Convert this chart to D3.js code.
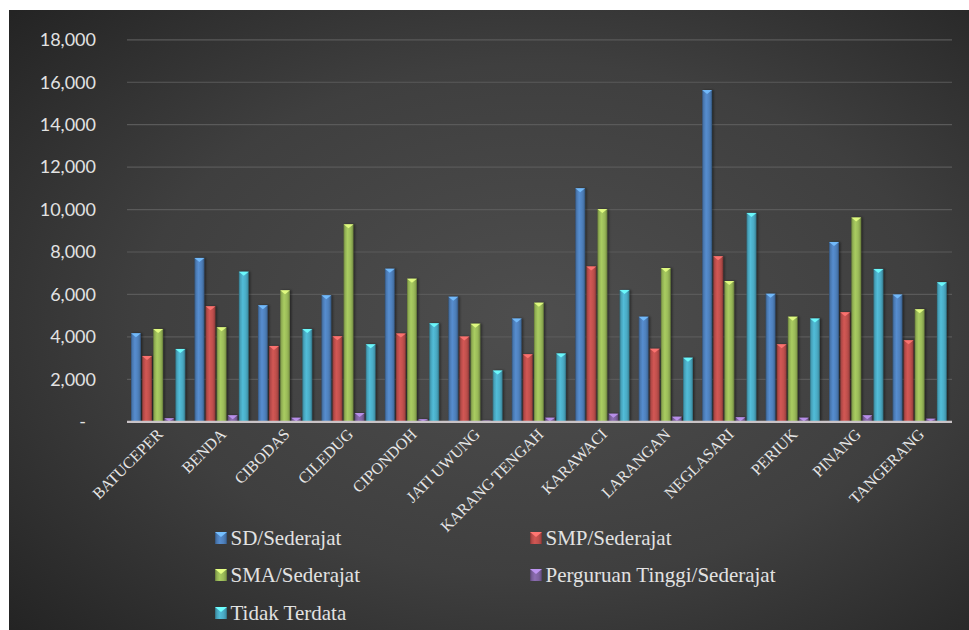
<!DOCTYPE html>
<html>
<head>
<meta charset="utf-8">
<script src="https://cdn.jsdelivr.net/npm/d3@7"></script>
<style>
  html, body { margin: 0; padding: 0; background: #ffffff; overflow: hidden; }
  svg { display: block; }
</style>
</head>
<body>
<svg id="chart" width="969" height="630"></svg>
<script>
// Kecamatan names
const categories = ["BATUCEPER", "BENDA", "CIBODAS", "CILEDUG", "CIPONDOH", "JATI UWUNG",
  "KARANG TENGAH", "KARAWACI", "LARANGAN", "NEGLASARI", "PERIUK", "PINANG", "TANGERANG"];

// Series names
const seriesNames = ["SD/Sederajat", "SMP/Sederajat", "SMA/Sederajat",
  "Perguruan Tinggi/Sederajat", "Tidak Terdata"];

// Values per series, one per kecamatan
const sd     = [4150, 7700, 5470, 5940, 7190, 5870, 4840, 10980, 4930, 15610, 6010, 8450, 5970];
const smp    = [3080, 5420, 3550, 4010, 4140, 3990, 3160, 7300, 3420, 7780, 3630, 5140, 3820];
const sma    = [4350, 4430, 6170, 9280, 6720, 4600, 5590, 10000, 7220, 6610, 4930, 9600, 5280];
const pt     = [140, 280, 170, 390, 95, 30, 170, 360, 220, 190, 170, 280, 120];
const tidak  = [3410, 7050, 4350, 3630, 4620, 2390, 3200, 6190, 3000, 9820, 4840, 7180, 6550];

const seriesValues = [sd, smp, sma, pt, tidak];

// Y axis ticks
const yTicks = [0, 2000, 4000, 6000, 8000, 10000, 12000, 14000, 16000, 18000];

const colors = ["#4f81bd", "#c0504d", "#9bbb59", "#8064a2", "#4bacc6"];

const SERIF = '"Liberation Serif", "Times New Roman", serif';
const SANS = 'Lato, "Open Sans", sans-serif';

const svg = d3.select("#chart");
const W = 969, H = 630;
const plot = { left: 127, right: 952, top: 39.3, bottom: 421.3 };

const defs = svg.append("defs");

// Chart area background: dark radial glow
const bg = defs.append("radialGradient").attr("id", "bgGrad")
  .attr("cx", "0.55").attr("cy", "0.5").attr("r", "0.75");
bg.append("stop").attr("offset", "0").attr("stop-color", "#4e4e4e");
bg.append("stop").attr("offset", "0.55").attr("stop-color", "#3f3f3f");
bg.append("stop").attr("offset", "1").attr("stop-color", "#232323");

// Bar bevel gradients
colors.forEach((c, i) => {
  const base = d3.color(c);
  const g = defs.append("linearGradient").attr("id", "barGrad" + i)
    .attr("x1", "0").attr("x2", "1").attr("y1", "0").attr("y2", "0");
  g.append("stop").attr("offset", "0").attr("stop-color", base.darker(1.2));
  g.append("stop").attr("offset", "0.15").attr("stop-color", base.darker(0.2));
  g.append("stop").attr("offset", "0.4").attr("stop-color", base.brighter(0.25));
  g.append("stop").attr("offset", "0.7").attr("stop-color", base);
  g.append("stop").attr("offset", "0.88").attr("stop-color", base.darker(0.4));
  g.append("stop").attr("offset", "1").attr("stop-color", base.darker(1.4));
});

const shadow = defs.append("filter").attr("id", "barShadow")
  .attr("x", "-50%").attr("y", "-10%").attr("width", "200%").attr("height", "120%");
shadow.append("feDropShadow").attr("dx", 1.5).attr("dy", 0).attr("stdDeviation", 1.2)
  .attr("flood-color", "#000").attr("flood-opacity", 0.45);

svg.append("rect").attr("x", 9).attr("y", 10).attr("width", W - 9).attr("height", H - 10)
  .attr("fill", "url(#bgGrad)");

// Scales
const x = d3.scaleBand().domain(categories).range([plot.left, plot.right]).padding(0);
const xInner = d3.scaleBand().domain(d3.range(seriesNames.length))
  .range([4, x.bandwidth() - 4]).padding(0);
const y = d3.scaleLinear().domain([0, 18000]).range([plot.bottom, plot.top]);

// Gridlines
const grid = svg.append("g").attr("transform", `translate(${plot.left},0)`)
  .call(d3.axisLeft(y).tickValues(yTicks).tickSize(-(plot.right - plot.left)).tickFormat(""));
grid.select(".domain").remove();
grid.selectAll("line").attr("stroke", "#5a5a5a").attr("stroke-width", 1.2);

// Y tick labels
const yAxis = svg.append("g").attr("transform", `translate(${plot.left - 28},0)`)
  .call(d3.axisLeft(y).tickValues(yTicks).tickSize(0)
    .tickFormat(d => d === 0 ? "-" : d3.format(",")(d)));
yAxis.select(".domain").remove();
yAxis.selectAll("text")
  .style("font-family", SANS)
  .attr("fill", "#e2e2e2")
  .attr("font-size", 18)
  .attr("dy", "0.35em")
  .attr("dx", d => d === 0 ? -10 : 0);

// Bars
const groups = svg.append("g").selectAll("g").data(seriesNames).join("g")
  .attr("filter", "url(#barShadow)");

groups.each(function(name, si) {
  const g = d3.select(this);
  const bw = xInner.bandwidth() - 1.2;
  const data = categories.map((c, ci) => ({ c, v: seriesValues[si][ci] }));
  g.selectAll("rect").data(data).join("rect")
    .attr("x", d => x(d.c) + xInner(si))
    .attr("y", d => y(d.v))
    .attr("width", bw)
    .attr("height", d => y(0) - y(d.v))
    .attr("fill", `url(#barGrad${si})`);
  // bevelled top cap
  const light = d3.color(colors[si]).brighter(1.1);
  g.selectAll("path.cap").data(data).join("path").attr("class", "cap")
    .attr("d", d => {
      const x0 = x(d.c) + xInner(si), y0 = y(d.v);
      const h = Math.min(4, y(0) - y0);
      return `M${x0},${y0} L${x0 + bw},${y0} L${x0 + bw / 2},${y0 + h} Z`;
    })
    .attr("fill", light.formatHex())
    .attr("opacity", 0.9);
});

// X axis line
svg.append("line")
  .attr("x1", plot.left).attr("x2", plot.right)
  .attr("y1", y(0) + 0.5).attr("y2", y(0) + 0.5)
  .attr("stroke", "#c9c3c6").attr("stroke-width", 2.2);

// Category labels, rotated
const xAxis = svg.append("g").attr("transform", `translate(0,${plot.bottom})`)
  .call(d3.axisBottom(x).tickSize(0));
xAxis.select(".domain").remove();
xAxis.selectAll("text")
  .style("font-family", SERIF)
  .attr("fill", "#e6e6e6")
  .attr("font-size", 16)
  .attr("text-anchor", "end")
  .attr("dy", 0)
  .attr("y", 0)
  .attr("transform", "translate(5,14) rotate(-45)");

// Legend
const legendPos = [
  { x: 215, y: 538 }, { x: 530, y: 538 },
  { x: 215, y: 575 }, { x: 530, y: 575 },
  { x: 215, y: 613 }
];
const legend = svg.append("g").selectAll("g").data(seriesNames).join("g")
  .attr("transform", (d, i) => `translate(${legendPos[i].x},${legendPos[i].y})`);
legend.append("rect")
  .attr("x", 0).attr("y", -6).attr("width", 12).attr("height", 12)
  .attr("fill", (d, i) => `url(#barGrad${i})`);
legend.append("path")
  .attr("d", "M0,-6 L12,-6 L6,-1 Z")
  .attr("fill", (d, i) => d3.color(colors[i]).brighter(1.1).formatHex());
legend.append("text")
  .style("font-family", SERIF)
  .attr("x", 15.5).attr("y", 0).attr("dy", "0.35em")
  .attr("fill", "#e2e2e2")
  .attr("font-size", 21)
  .text(d => d);
</script>
</body>
</html>
